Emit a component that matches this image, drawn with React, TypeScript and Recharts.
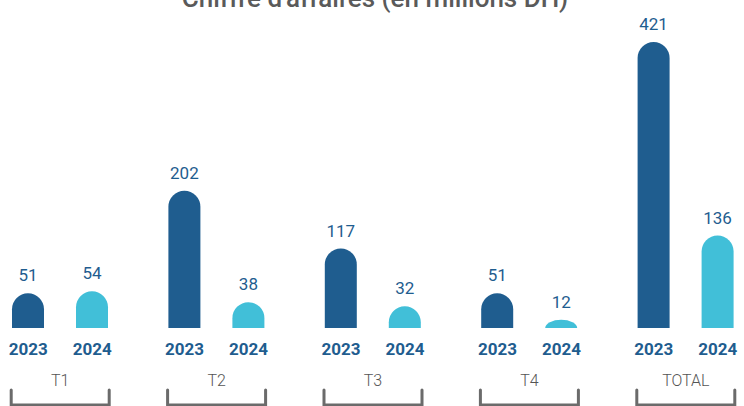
import React from 'react';
import { BarChart, Bar, XAxis, YAxis, LabelList } from 'recharts';

const groups = ['T1', 'T2', 'T3', 'T4', 'TOTAL'];
const years = ['2023', '2024'];
const values2023 = [51, 202, 117, 51, 421];
const values2024 = [54, 38, 32, 12, 136];

const data = groups.map((g, i) => ({ name: g, y2023: values2023[i], y2024: values2024[i] }));

const DARK = '#1f5d8f';
const LIGHT = '#41bfd8';
const BAR = 32;
const GAP = 32;
const FONT = 'Roboto, "Noto Sans", sans-serif';

// rounded top: half circle when tall enough, flat dome when short
const DomeBar = (props: any) => {
  const { x, y, width, height, fill } = props;
  if (!height || height <= 0) return null;
  const r = width / 2;
  const bottom = y + height;
  let d: string;
  if (height >= r) {
    d = `M${x},${bottom} L${x},${y + r} A${r},${r} 0 0 1 ${x + width},${y + r} L${x + width},${bottom} Z`;
  } else {
    d = `M${x},${bottom} A${r},${height} 0 0 1 ${x + width},${bottom} Z`;
  }
  return <path d={d} fill={fill} />;
};

const GroupTick = (props: any) => {
  const { x, y, payload } = props;
  const off = (BAR + GAP) / 2;
  const half = BAR + GAP / 2 + 1;
  return (
    <g>
      <text x={x - off} y={y + 19} textAnchor="middle" fill={DARK} fontSize={17} fontWeight={700} fontFamily={FONT}>
        {years[0]}
      </text>
      <text x={x + off} y={y + 19} textAnchor="middle" fill={DARK} fontSize={17} fontWeight={700} fontFamily={FONT}>
        {years[1]}
      </text>
      <text x={x} y={y + 50} textAnchor="middle" fill="#555" fontSize={16} fontWeight={300} fontFamily={FONT}>
        {payload.value}
      </text>
      <path
        d={`M${x - half},${y + 54} L${x - half},${y + 69} L${x + half},${y + 69} L${x + half},${y + 54}`}
        fill="none"
        stroke="#6b6b6b"
        strokeWidth={3}
        strokeLinecap="round"
      />
    </g>
  );
};

export default function App() {
  return (
    <div style={{ position: 'fixed', left: 0, top: 0, width: 744, height: 406, overflow: 'hidden', background: '#fff' }}>
      <div
        style={{
          position: 'absolute',
          top: -15,
          left: 0,
          width: 750,
          textAlign: 'center',
          fontFamily: FONT,
          fontSize: 26,
          lineHeight: '26px',
          fontWeight: 500,
          color: '#5a5a5a',
        }}
      >
        Chiffre d'affaires (en millions DH)
      </div>
      <div style={{ position: 'absolute', left: -18, top: 0 }}>
        <BarChart
          width={782}
          height={406}
          data={data}
          margin={{ top: 42, right: 0, bottom: 0, left: 0 }}
          barSize={BAR}
          barGap={GAP}
        >
          <XAxis dataKey="name" axisLine={false} tickLine={false} height={78} tick={<GroupTick />} interval={0} />
          <YAxis hide domain={[0, 421]} />
          <Bar dataKey="y2023" fill={DARK} shape={<DomeBar />} isAnimationActive={false}>
            <LabelList dataKey="y2023" position="top" offset={12} fill={DARK} fontSize={17} fontFamily={FONT} />
          </Bar>
          <Bar dataKey="y2024" fill={LIGHT} shape={<DomeBar />} isAnimationActive={false}>
            <LabelList dataKey="y2024" position="top" offset={12} fill={DARK} fontSize={17} fontFamily={FONT} />
          </Bar>
        </BarChart>
      </div>
    </div>
  );
}
